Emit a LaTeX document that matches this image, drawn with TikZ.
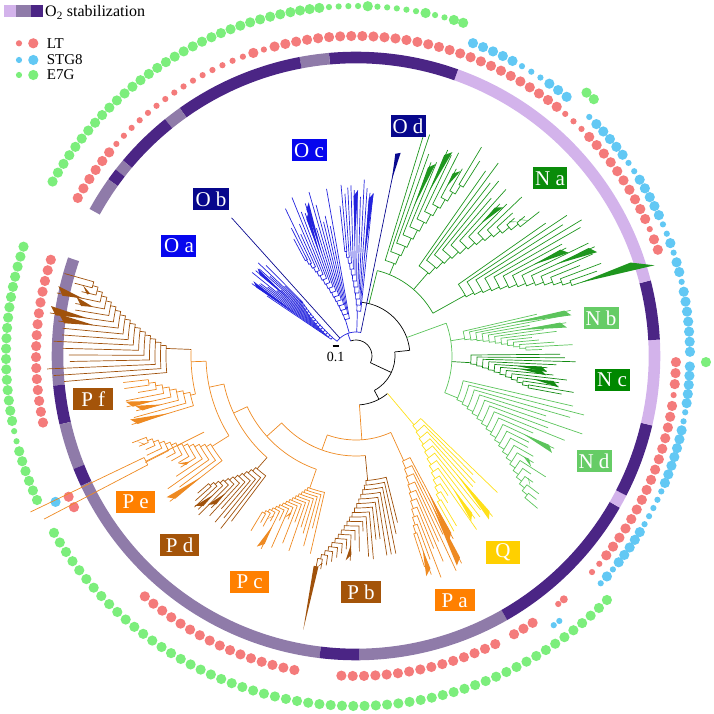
\documentclass[tikz,border=0pt]{standalone}
\usepackage{fontspec}
\setmainfont{Liberation Serif}
\definecolor{rLight}{HTML}{D3B3EB}
\definecolor{rMid}{HTML}{8F7BA9}
\definecolor{rDark}{HTML}{4B2585}
\definecolor{dRed}{HTML}{F47B7B}
\definecolor{dBlue}{HTML}{62C8F4}
\definecolor{dGreen}{HTML}{7CEE7C}
\definecolor{cOl}{HTML}{2323DD}
\definecolor{cOn}{HTML}{0A0A90}
\definecolor{cNa}{HTML}{1E961E}
\definecolor{cNb}{HTML}{5CC45C}
\definecolor{cNc}{HTML}{118A11}
\definecolor{cNd}{HTML}{5CC45C}
\definecolor{cQ}{HTML}{FFE01A}
\definecolor{cPo}{HTML}{EE8A22}
\definecolor{cPb}{HTML}{A0520C}
\definecolor{labBlue}{HTML}{0606EE}
\definecolor{labNavy}{HTML}{07078C}
\definecolor{labNa}{HTML}{0A8C0A}
\definecolor{labNb}{HTML}{66CC66}
\definecolor{labNc}{HTML}{008800}
\definecolor{labQ}{HTML}{FFD000}
\definecolor{labPo}{HTML}{FF8000}
\definecolor{labPb}{HTML}{A45409}
\tikzset{
  tl/.style={line width=0.7pt},
  lab/.style={text=white, inner sep=0pt, minimum height=22pt, font=\fontsize{21}{22}\selectfont},
  legtxt/.style={anchor=base west, inner sep=0pt, font=\fontsize{15}{17}\selectfont},
}
% comb: #1 colour, #2 parent radius, #3 start angle, #4 step, #5 n, #6 r0, #7 dr, #8 leaf base, #9 leaf var
\newcommand\comb[9]{%
  \pgfmathsetmacro\cbE{(#3)+((#5)-1)*(#4)}%
  \pgfmathsetmacro\cbP{0.35*\cbE+0.65*(#3)}%
  \draw[tl,#1] (\cbP:#2pt) -- (\cbP:#6pt);%
  \pgfmathtruncatemacro\cbN{(#5)-1}%
  \foreach \j in {0,...,\cbN}{%
    \pgfmathsetmacro\cbT{(#3)+\j*(#4)}%
    \pgfmathsetmacro\cbR{(#6)+\j*(#7)}%
    \pgfmathsetmacro\cbL{max((#8)+rnd*(#9),\cbR+10)}%
    \ifnum\j<\cbN\relax
      \pgfmathsetmacro\cbTn{(#3)+(\j+1)*(#4)}%
      \pgfmathsetmacro\cbPn{0.35*\cbE+0.65*\cbTn}%
      \pgfmathsetmacro\cbRn{(#6)+(\j+1)*(#7)}%
      \draw[tl,#1] (\cbT:\cbL pt) -- (\cbT:\cbR pt) arc[start angle=\cbT, end angle=\cbPn, radius=\cbR pt] -- (\cbPn:\cbRn pt);%
    \else
      \draw[tl,#1] (\cbT:\cbL pt) -- (\cbT:\cbR pt);%
    \fi
    \pgfmathtruncatemacro\cbW{rnd<\triP ? 1 : 0}%
    \ifnum\cbW=1\relax
      \pgfmathsetmacro\cbM{\cbR+0.4*(\cbL-\cbR)}%
      \pgfmathsetmacro\cbA{\cbT-1.3}%
      \pgfmathsetmacro\cbB{\cbT+0.3}%
      \pgfmathsetmacro\cbLL{\cbL-6}%
      \fill[#1] (\cbT:\cbM pt) -- (\cbA:\cbL pt) -- (\cbB:\cbLL pt) -- cycle;%
    \fi
  }%
}
\newcommand\ringseg[3]{\fill[#1] (#2:292.7pt) arc[start angle=#2, end angle=#3, radius=292.7pt] -- (#3:304.3pt) arc[start angle=#3, end angle=#2, radius=304.3pt] -- cycle;}
\newcommand\dotseq[5]{%
  \foreach \dd [count=\ii from 0] in {#5}{%
    \pgfmathsetmacro\dA{(#3)+\ii*(#4)}%
    \ifnum\dd=1 \fill[#1] (\dA:#2pt) circle[radius=5.1pt];\fi
    \ifnum\dd=0 \fill[#1] (\dA:#2pt) circle[radius=3.1pt];\fi
  }}
\newcommand\dotrun[5]{%
  \pgfmathtruncatemacro\dN{(#5)-1}%
  \foreach \ii in {0,...,\dN}{%
    \pgfmathsetmacro\dA{(#3)+\ii*(#4)}%
    \fill[#1] (\dA:#2pt) circle[radius=5.1pt];
  }}
\begin{document}
\begin{tikzpicture}[x=1pt,y=1pt]
\useasboundingbox (-356,-358) rectangle (357,356);
\pgfmathsetseed{4242}
% ---------------- ring ----------------
\ringseg{rMid}{161.1}{185.6}
\ringseg{rDark}{185.6}{193.0}
\ringseg{rMid}{193.0}{201.8}
\ringseg{rDark}{201.8}{205.3}
\ringseg{rMid}{205.3}{263.1}
\ringseg{rDark}{263.1}{270.7}
\ringseg{rMid}{270.7}{299.8}
\ringseg{rDark}{-60.2}{-29.9}
\ringseg{rLight}{-29.9}{-27.3}
\ringseg{rDark}{-27.3}{-13.2}
\ringseg{rLight}{-13.2}{3.1}
\ringseg{rDark}{3.1}{14.4}
\ringseg{rLight}{14.4}{70.4}
\ringseg{rDark}{70.4}{95.1}
\ringseg{rMid}{95.1}{100.7}
\ringseg{rDark}{100.7}{125.4}
\ringseg{rMid}{125.4}{128.9}
\ringseg{rDark}{128.9}{140.0}
\ringseg{rMid}{140.0}{142.2}
\ringseg{rDark}{142.2}{144.5}
\ringseg{rMid}{144.5}{151.1}
% ---------------- dots: LT ----------------
\dotseq{dRed}{320}{150.4}{-1.985}{1,1,1,1,1,1,0,0,0,0,0,0,0,0,0,0,0,0,0,0,0,1,0,1,1,1,1,1,1,1,1,1,1,1,1,1,1,1,1,1,1,1,1,1,1,1,1,1,1,1,1,0,0,0,1,1,1,1,1,1,1,1,1,1,0,1,1}
\dotrun{dRed}{320}{162.5}{1.967}{16}
\dotseq{dRed}{320}{-1.1}{-1.97}{1,1,1,0,1,1,1,1,1,1,1,1,1,1,1,1,1,1,1,1,0,0}
\fill[dRed] (-49.5:320pt) circle[radius=4pt];
\fill[dRed] (-50.8:320pt) circle[radius=3.1pt];
\dotrun{dRed}{320}{-56.5}{-1.95}{3}
\dotrun{dRed}{320}{-64.2}{-2.03}{15}
\dotrun{dRed}{320}{228.7}{2.013}{16}
\dotrun{dRed}{320}{206.1}{2.1}{2}
% ---------------- dots: STG8 ----------------
\dotseq{dBlue}{334}{69.5}{-1.86}{1,1,1,1,1,0,0,0,1,1,1}
\dotseq{dBlue}{334}{45.7}{-1.73}{0,1,1,1,1,1,0,0,1,1,1,1,1,0,0,1,0,1,1,0,1,1,1,1,1,1,1}
\dotseq{dBlue}{334}{-1.8}{-1.58}{1,1,1,1,1,0,0,1,1,1,1,1,1,1,0,0,0,0,0,1,1,1,1,1,0,1,0}
\dotseq{dBlue}{334}{-52.5}{-1.2}{0,0}
\dotrun{dBlue}{334}{205.9}{1}{1}
% ---------------- dots: E7G ----------------
\dotrun{dGreen}{350}{150.1}{-1.7}{30}
\dotseq{dGreen}{350}{99.2}{-1.59}{1,1,1,0,0,0,0,1,0,0,0,0,0,1,0,0,1,1}
\dotrun{dGreen}{350}{48.8}{-1.6}{2}
\dotrun{dGreen}{350}{-1.0}{1}{1}
\dotrun{dGreen}{350}{-44.2}{-1.85}{58}
\dotseq{dGreen}{350}{161.8}{1.7}{1,1,1,1,1,1,1,1,1,1,1,1,1,1,1,1,1,1,0,0,1,1,1,1,1,1}
% ---------------- tree: backbone ----------------
\draw[tl,black] (110:16pt) arc[start angle=110, end angle=-25, radius=16pt];
\draw[tl,black] (-25:16pt) -- (-25:39pt);
\draw[tl,black] (6:39pt) arc[start angle=6, end angle=-62, radius=39pt];
\draw[tl,black] (-62:39pt) -- (-62:49pt);
\draw[tl,black] (-50:49pt) arc[start angle=-50, end angle=-86, radius=49pt];
\draw[tl,black] (6:39pt) -- (6:54pt);
\draw[tl,black] (84:54pt) arc[start angle=84, end angle=6, radius=54pt];
% ---------------- O clade ----------------
\def\triP{0.12}
\draw[tl,cOl] (110:16pt) -- (110:24pt);
\draw[tl,cOl] (78.5:24pt) arc[start angle=78.5, end angle=142.1, radius=24pt];
\draw[tl,cOn] (78.5:24pt) -- (78.5:196pt);
\fill[cOn] (78.5:180pt) -- (77.6:208pt) -- (79.0:206pt) -- cycle;
\comb{cOl}{24}{84}{1.1}{12}{45}{6}{150}{45}
\comb{cOl}{24}{100}{1.2}{16}{38}{5}{130}{45}
\draw[tl,cOn] (132:24pt) -- (132:186pt);
\comb{cOl}{24}{146}{-0.8}{15}{30}{3.5}{100}{35}
% ---------------- N clade ----------------
\def\triP{0.14}
\draw[tl,cNa] (76:54pt) -- (76:88pt);
\draw[tl,cNa] (76:88pt) arc[start angle=76, end angle=29.1, radius=88pt];
\comb{cNa}{88}{73}{-1.4}{12}{100}{10}{205}{45}
\comb{cNa}{88}{55}{-1.4}{13}{110}{9}{200}{40}
\comb{cNa}{88}{35}{-1.3}{14}{125}{8.5}{225}{40}
\fill[cNa] (18.1:236pt) -- (18.8:290pt) -- (16.9:312pt) -- cycle;
\draw[tl,cNd] (20:54pt) -- (20:96pt);
\draw[tl,cNd] (20:96pt) arc[start angle=20, end angle=-22.45, radius=96pt];
\comb{cNb}{96}{13}{-1.0}{12}{110}{6}{175}{45}
\comb{cNc}{96}{0.5}{-1.0}{12}{115}{6}{190}{35}
\comb{cNd}{96}{-13}{-1.5}{19}{110}{6.5}{190}{50}
% ---------------- Q clade ----------------
\def\triP{0.2}
\comb{cQ}{49}{-44}{-1.4}{13}{90}{7}{165}{50}
% ---------------- P clade ----------------
\draw[tl,cPo] (-86:49pt) -- (-86:84pt);
\draw[tl,cPo] (250:84pt) arc[start angle=250, end angle=294.5, radius=84pt];
\comb{cPo}{84}{298}{-1.0}{11}{115}{8}{195}{45}
\draw[tl,cPo] (250:84pt) -- (250:100pt);
\draw[tl,cPo] (222:100pt) arc[start angle=222, end angle=275.4, radius=100pt];
\comb{cPb}{100}{284}{-1.3}{20}{125}{4.5}{165}{40}
\fill[cPb] (258.6:214pt) -- (259.9:214pt) -- (259.1:279pt) -- cycle;
\draw[tl,cPo] (222:100pt) -- (222:120pt);
\draw[tl,cPo] (205:120pt) arc[start angle=205, end angle=250.7, radius=120pt];
\comb{cPo}{120}{257}{-1.2}{16}{140}{3}{175}{40}
\draw[tl,cPo] (205:120pt) -- (205:135pt);
\draw[tl,cPo] (192:135pt) arc[start angle=192, end angle=228.8, radius=135pt];
\comb{cPb}{135}{233}{-1.1}{12}{150}{4.5}{200}{30}
\draw[tl,cPo] (192:135pt) -- (192:150pt);
\draw[tl,cPo] (182:150pt) arc[start angle=182, end angle=212.1, radius=150pt];
\comb{cPo}{150}{218}{-1.4}{13}{170}{5}{205}{35}
\draw[tl,cPo] (206.6:170pt) -- (206.6:235pt);
\draw[tl,cPo] (205.6:235pt) arc[start angle=205.6, end angle=207.6, radius=235pt];
\draw[tl,cPo] (205.6:235pt) -- (205.6:361pt);
\draw[tl,cPo] (207.6:235pt) -- (207.6:352pt);
\draw[tl,cPo] (182:150pt) -- (182:165pt);
\draw[tl,cPo] (177.7:165pt) arc[start angle=177.7, end angle=193.3, radius=165pt];
\comb{cPo}{165}{197}{-1.5}{8}{170}{6.5}{215}{22}
\comb{cPb}{165}{185}{-1.3}{17}{190}{5.5}{280}{30}
% ---------------- labels ----------------
\node[lab,fill=labBlue,minimum width=35pt] (oa) at (-177,110) {O a};
\node[lab,fill=labNavy,minimum width=36pt] (ob) at (-145,157) {O b};
\node[lab,fill=labBlue,minimum width=35pt] (oc) at (-47,205.5) {O c};
\node[lab,fill=labNavy,minimum width=35pt] (od) at (52,230) {O d};
\node[lab,fill=labNa,minimum width=34pt] (na) at (194,177.5) {N a};
\node[lab,fill=labNb,minimum width=35pt] (nb) at (245,37.5) {N b};
\node[lab,fill=labNc,minimum width=35pt] (nc) at (256,-24) {N c};
\node[lab,fill=labNb,minimum width=35pt] (nd) at (238,-105) {N d};
\node[lab,fill=labQ,minimum width=34pt,minimum height=23pt] (q) at (147,-196.5) {Q};
\node[lab,fill=labPo,minimum width=40pt] (pa) at (98.7,-244.3) {P a};
\node[lab,fill=labPb,minimum width=40pt] (pb) at (5,-236) {P b};
\node[lab,fill=labPo,minimum width=39pt] (pc) at (-106.3,-226) {P c};
\node[lab,fill=labPb,minimum width=39pt] (pd) at (-176.3,-189) {P d};
\node[lab,fill=labPo,minimum width=39pt] (pe) at (-220.3,-145.5) {P e};
\node[lab,fill=labPb,minimum width=40pt] (pf) at (-262.7,-42.7) {P f};
% ---------------- scale bar ----------------
\coordinate (sbA) at (-23.3,10);
\coordinate (sbB) at (-16.7,10);
\draw[line width=2.2pt] (sbA) -- (sbB);
\node[inner sep=0pt,font=\fontsize{14}{16}\selectfont] (sbl) at (-20.3,-1.3) {0.1};
% ---------------- legend ----------------
\fill[rLight] (-352,339.3) rectangle (-340.3,351);
\fill[rMid] (-340.3,339.3) rectangle (-325.3,351);
\fill[rDark] (-325.3,339.3) rectangle (-312.7,351);
\node[anchor=base west,inner sep=0pt,font=\fontsize{16}{18}\selectfont] (o2) at (-311,339.5) {O\textsubscript{2} stabilization};
\fill[dRed] (-337,312.7) circle[radius=3.1pt];
\fill[dRed] (-322.7,312.7) circle[radius=5.1pt];
\node[legtxt] (lt) at (-309.3,307.7) {LT};
\fill[dBlue] (-337,296) circle[radius=3.1pt];
\fill[dBlue] (-322.7,296) circle[radius=5.1pt];
\node[legtxt] (stg) at (-309.3,291) {STG8};
\fill[dGreen] (-337,281) circle[radius=3.1pt];
\fill[dGreen] (-322.7,281) circle[radius=5.1pt];
\node[legtxt] (e7g) at (-309.3,276) {E7G};
\end{tikzpicture}
\end{document}
